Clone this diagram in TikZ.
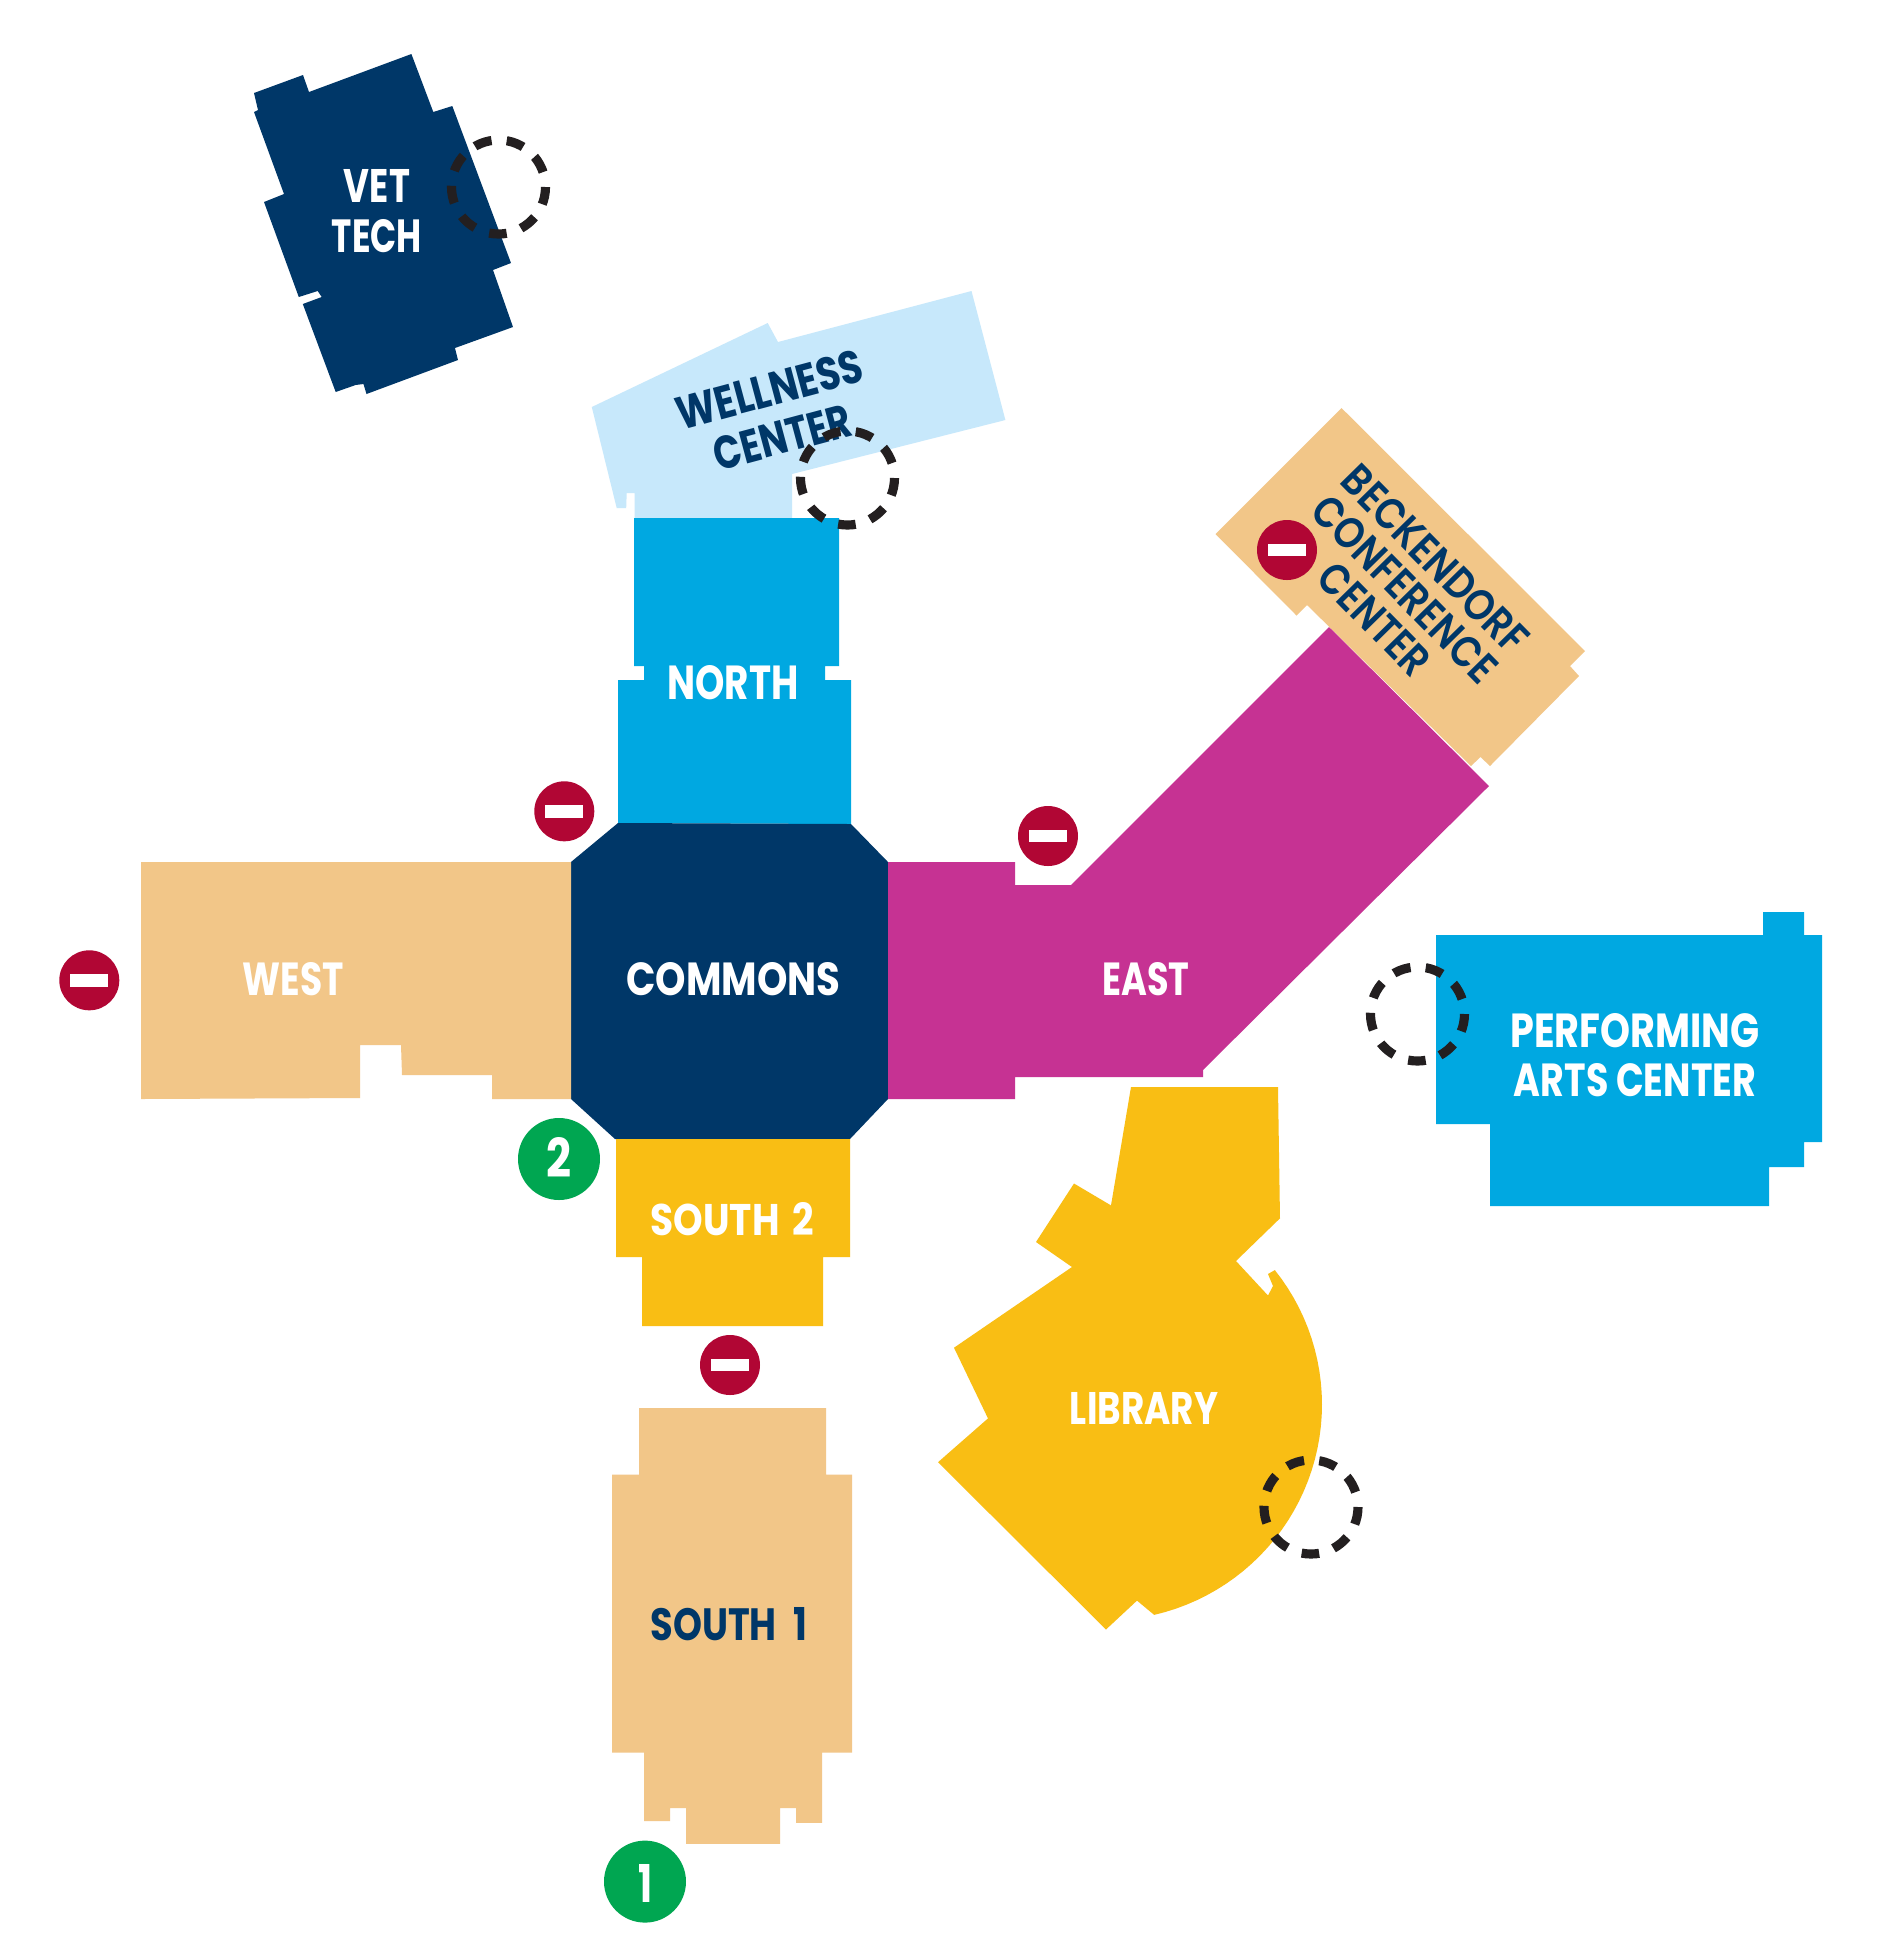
\documentclass[tikz,border=0pt]{standalone}
\usepackage{fontspec}
\usepackage{graphicx}
\setmainfont{Poppins}
\newfontfamily\semifont{Poppins SemiBold}
\definecolor{navyb}{HTML}{003768}
\definecolor{paleb}{HTML}{C7E8FB}
\definecolor{cyanb}{HTML}{00A8E1}
\definecolor{magb}{HTML}{C63293}
\definecolor{tanb}{HTML}{F2C688}
\definecolor{yelb}{HTML}{F9BE14}
\definecolor{redb}{HTML}{B10634}
\definecolor{greenb}{HTML}{00A651}
\definecolor{ringc}{HTML}{231F20}
\newlength\pxu
\setlength\pxu{0.28453pt}
\newcommand{\lblfit}[3]{\resizebox{#1\pxu}{#2\pxu}{#3}}
\newcommand{\noentry}[2]{%
  \begin{scope}[shift={(#1,#2)}]
    \fill[redb] (0,0) circle[radius=30];
    \fill[white] (-19,-6.4) rectangle (19,6.4);
  \end{scope}}
\tikzset{
  lbl/.style={inner sep=0pt,text=#1,align=center,font=\fontsize{13}{14}\selectfont\bfseries},
  ring/.style={draw=ringc,line width=2.6pt,dash pattern=on 5pt off 4.33pt},
}
\begin{document}
\begin{tikzpicture}[x=0.01cm,y=-0.01cm]
\useasboundingbox (0,0) rectangle (1884,1959);
\fill[white] (0,0) rectangle (1884,1959);
% Vet Tech
\fill[navyb] (411.4,54) -- (433.3,112) -- (452.3,106) -- (511,263) -- (493,270) -- (513,327) -- (455,348) -- (458,360) -- (366.5,394) -- (363.5,384) -- (355.6,385) -- (335.7,392) -- (302.8,304) -- (321.7,297) -- (317.7,291) -- (298.8,297) -- (264,202) -- (284,194) -- (254,112) -- (258,110) -- (254,93) -- (303,75) -- (309,92) -- cycle;
% Wellness
\fill[paleb] (971.5,291) -- (1005.4,420) -- (792,474) -- (792,518) -- (634.7,518) -- (634.7,493) -- (626.7,493) -- (626.2,508) -- (616.7,508) -- (591.8,407) -- (767.7,323) -- (778,342) -- cycle;
% North
\fill[cyanb] (634,518) -- (839,518) -- (839,666) -- (825,666) -- (825,680) -- (851,680) -- (851,824) -- (618,823) -- (618,680) -- (644,680) -- (644,666) -- (634,666) -- cycle;
% Commons
\fill[navyb] (618,823) -- (851,824) -- (888,862) -- (888,1099) -- (850,1139) -- (615,1139) -- (571,1099) -- (571,862) -- cycle;
% West
\fill[tanb] (141,862) -- (571,862) -- (571,1099) -- (492,1099) -- (492,1075) -- (402,1075) -- (401,1045) -- (360,1045) -- (360,1098) -- (141,1099) -- cycle;
% Beckendorf
\fill[tanb] (1341.5,408) -- (1585,651) -- (1570,666) -- (1579,676) -- (1490,766) -- (1480.5,757) -- (1471,766) -- (1307,605) -- (1296.5,615.5) -- (1215.5,534) -- cycle;
% East
\fill[magb] (888,862) -- (1015,862) -- (1015,885) -- (1071,885) -- (1329,627) -- (1489,786) -- (1203,1070) -- (1203,1077) -- (1015,1077) -- (1015,1099) -- (888,1099) -- cycle;
% South 2
\fill[yelb] (616,1139) -- (850,1139) -- (850,1257) -- (823,1257) -- (823,1326) -- (642,1326) -- (642,1257) -- (616,1257) -- cycle;
% South 1
\fill[tanb] (639,1408) -- (826,1408) -- (826,1474.6) -- (852,1474.6) -- (852,1752.7) -- (822,1752.7) -- (822,1822.9) -- (796,1822.9) -- (796,1808) -- (780,1808) -- (780,1843.8) -- (686,1843.8) -- (686,1808) -- (670,1808) -- (670,1821) -- (644,1821) -- (644,1752.7) -- (612,1752.7) -- (612,1474.6) -- (639,1474.6) -- cycle;
% Performing Arts
\fill[cyanb] (1436,935) -- (1763,935) -- (1763,912) -- (1804,912) -- (1804,935) -- (1822,935) -- (1822,1142) -- (1804,1142) -- (1804,1167) -- (1769,1167) -- (1769,1206) -- (1490,1206) -- (1490,1124) -- (1436,1124) -- cycle;
% Library
\fill[yelb] (1131,1087) -- (1278,1087) -- (1280,1218.3) -- (1236,1261) -- (1268,1295.5) -- (1273,1286) -- (1268,1274) -- (1275,1270)
  -- plot[domain=-38.5:76.9,samples=40] ({1105+217*cos(\x)},{1404.5+216*sin(\x)})
  -- (1137,1600.6) -- (1106,1629.5) -- (938,1462.2) -- (988,1418.4) -- (954,1347.7) -- (1072,1267) -- (1036,1242) -- (1074,1183.5) -- (1111,1205.4) -- cycle;
% Labels
\node[lbl=white] (vettech) at (377,211) {\lblfit{66}{33}{VET}\\\lblfit{90}{33}{TECH}};
\node[lbl=navyb,rotate=15] (wellness) at (776,413.5) {\lblfit{191}{33}{WELLNESS}\\\lblfit{140}{33}{CENTER}};
\node[lbl=navyb,rotate=-45.5,font=\fontsize{13}{12.1}\selectfont\semifont] (beck) at (1405,589) {\lblfit{244}{31}{BECKENDORF}\\\lblfit{243}{31}{CONFERENCE}\\\lblfit{139}{31}{CENTER}};
\node[lbl=white] (north) at (733,683) {\lblfit{131}{34}{NORTH}};
\node[lbl=white] (commons) at (733.5,979) {\lblfit{214}{33}{COMMONS}};
\node[lbl=white] (west) at (293.5,979) {\lblfit{101}{33}{WEST}};
\node[lbl=white] (east) at (1146,979) {\lblfit{87}{33}{EAST}};
\node[lbl=white] (south2) at (732,1219) {\lblfit{163}{33}{SOUTH\hspace{.12em} 2}};
\node[lbl=navyb] (south1) at (729,1624) {\lblfit{157}{33}{SOUTH\hspace{.25em} 1}};
\node[lbl=white] (library) at (1144,1408) {\lblfit{148}{32}{LIBRARY}};
\node[lbl=white] (pac) at (1635,1055.5) {\lblfit{249}{34}{PERFORMING}\\\lblfit{242}{33}{ARTS CENTER}};
% Entrance markers
\fill[greenb] (559,1159) circle[radius=41];
\node[lbl=white] (two) at (559,1157) {\lblfit{25}{40}{2}};
\fill[greenb] (645,1881.6) circle[radius=41];
\node[lbl=white] (one) at (646,1883.6) {\lblfit{14}{38}{1}};
% No entry
\noentry{89.3}{980.3}
\noentry{564.3}{811.3}
\noentry{1048}{836}
\noentry{730}{1365}
\noentry{1287}{550}
% Dashed rings
\draw[ring] (498.5,187) circle[radius=47];
\draw[ring] (847.5,478) circle[radius=47];
\draw[ring] (1311,1507) circle[radius=47];
\draw[ring] (1417.5,1014) circle[radius=47];
\end{tikzpicture}
\end{document}
